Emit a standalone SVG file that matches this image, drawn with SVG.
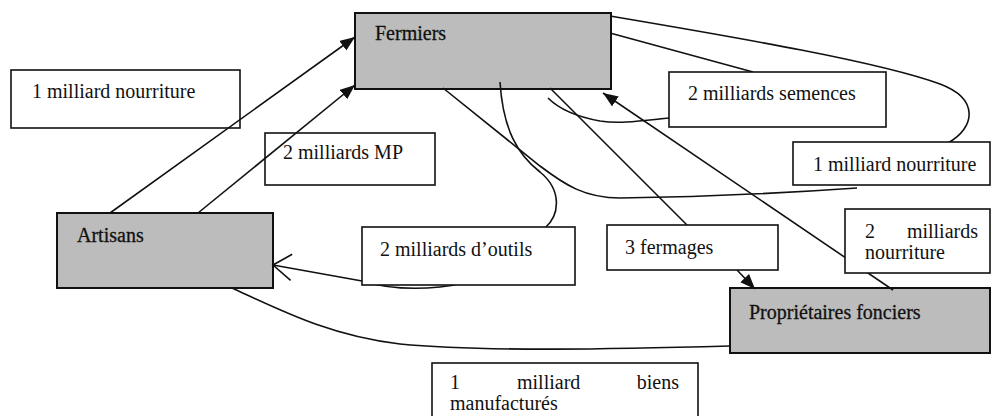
<svg xmlns="http://www.w3.org/2000/svg" width="993" height="416" viewBox="0 0 993 416">
<style>
.node{fill:#bcbcbc;stroke:#111;stroke-width:2}
.lab{fill:#fff;stroke:#111;stroke-width:1.6}
.ln{fill:none;stroke:#111;stroke-width:1.6}
text{font-family:"Liberation Serif","Times New Roman",serif;font-size:20px;fill:#111}
.nt{stroke:#111;stroke-width:0.3}
</style>
<defs>
<marker id="fa" markerUnits="userSpaceOnUse" markerWidth="16" markerHeight="14" refX="15" refY="6" orient="auto">
<path d="M0,0 L15,6 L0,12 z" fill="#111"/>
</marker>
<marker id="oa" markerUnits="userSpaceOnUse" markerWidth="26" markerHeight="30" refX="22" refY="14" orient="auto">
<path d="M2,2 L22,14 L5,28" fill="none" stroke="#111" stroke-width="1.6"/>
</marker>
</defs>
<rect width="993" height="416" fill="#fff"/>
<g id="fermiers"><rect class="node" x="355" y="13" width="256" height="76"/><text class="nt" x="375" y="40">Fermiers</text></g>
<g id="artisans"><rect class="node" x="57" y="213" width="216" height="75"/><text class="nt" x="77" y="242">Artisans</text></g>
<g id="proprietaires"><rect class="node" x="730" y="288" width="260" height="65"/><text class="nt" x="749" y="319">Propriétaires fonciers</text></g>
<g id="lab-nourriture-1"><rect class="lab" x="11" y="70" width="229" height="58"/><text x="32" y="98">1 milliard nourriture</text></g>
<g id="lab-mp"><rect class="lab" x="265" y="133" width="170" height="52"/><text x="283" y="159">2 milliards MP</text></g>
<g id="connectors">
<path class="ln" d="M110,213 L355,37" marker-end="url(#fa)"/>
<path class="ln" d="M198,213 L355,85" marker-end="url(#fa)"/>
<path class="ln" d="M500,82 C503,130 518,155 540,172 C562,190 560,215 545,228 C500,270 470,285 440,287 C410,290 385,288 362,281 L273,265" marker-end="url(#oa)"/>
<path class="ln" d="M550,88 L687,225"/>
<path class="ln" d="M737,270 L755,289" marker-end="url(#fa)"/>
<path class="ln" d="M893,290 L603,93" marker-end="url(#fa)"/>
<path class="ln" d="M610,33 L753,72"/>
<path class="ln" d="M669,118 C640,121 620,124 600,121 C578,117 560,110 548,98"/>
<path class="ln" d="M610,16 C740,38 880,62 940,84 C980,99 975,128 948,143"/>
<path class="ln" d="M857,188 C800,192 700,197 620,198 C585,198 565,185 540,166 L443,88"/>
<path class="ln" d="M730,346 C620,349 480,352 400,344 C330,336 280,310 232,288"/>
</g>
<g id="lab-outils"><rect class="lab" x="362" y="227" width="213" height="58"/><text x="380" y="256">2 milliards d’outils</text></g>
<g id="lab-fermages"><rect class="lab" x="607" y="225" width="171" height="45"/><text x="625" y="254">3 fermages</text></g>
<g id="lab-semences"><rect class="lab" x="669" y="72" width="217" height="55"/><text x="688" y="100">2 milliards semences</text></g>
<g id="lab-nourriture-2"><rect class="lab" x="793" y="142" width="197" height="43"/><text x="813" y="171">1 milliard nourriture</text></g>
<g id="lab-nourriture-3"><rect class="lab" x="845" y="209" width="145" height="64"/><text x="865" y="238">2</text><text x="978" y="238" text-anchor="end">milliards</text><text x="865" y="259">nourriture</text></g>
<g id="lab-biens"><rect class="lab" x="432" y="363" width="266" height="60"/><text x="450" y="389">1</text><text x="517" y="389">milliard</text><text x="679" y="389" text-anchor="end">biens</text><text x="450" y="410">manufacturés</text></g>
</svg>
